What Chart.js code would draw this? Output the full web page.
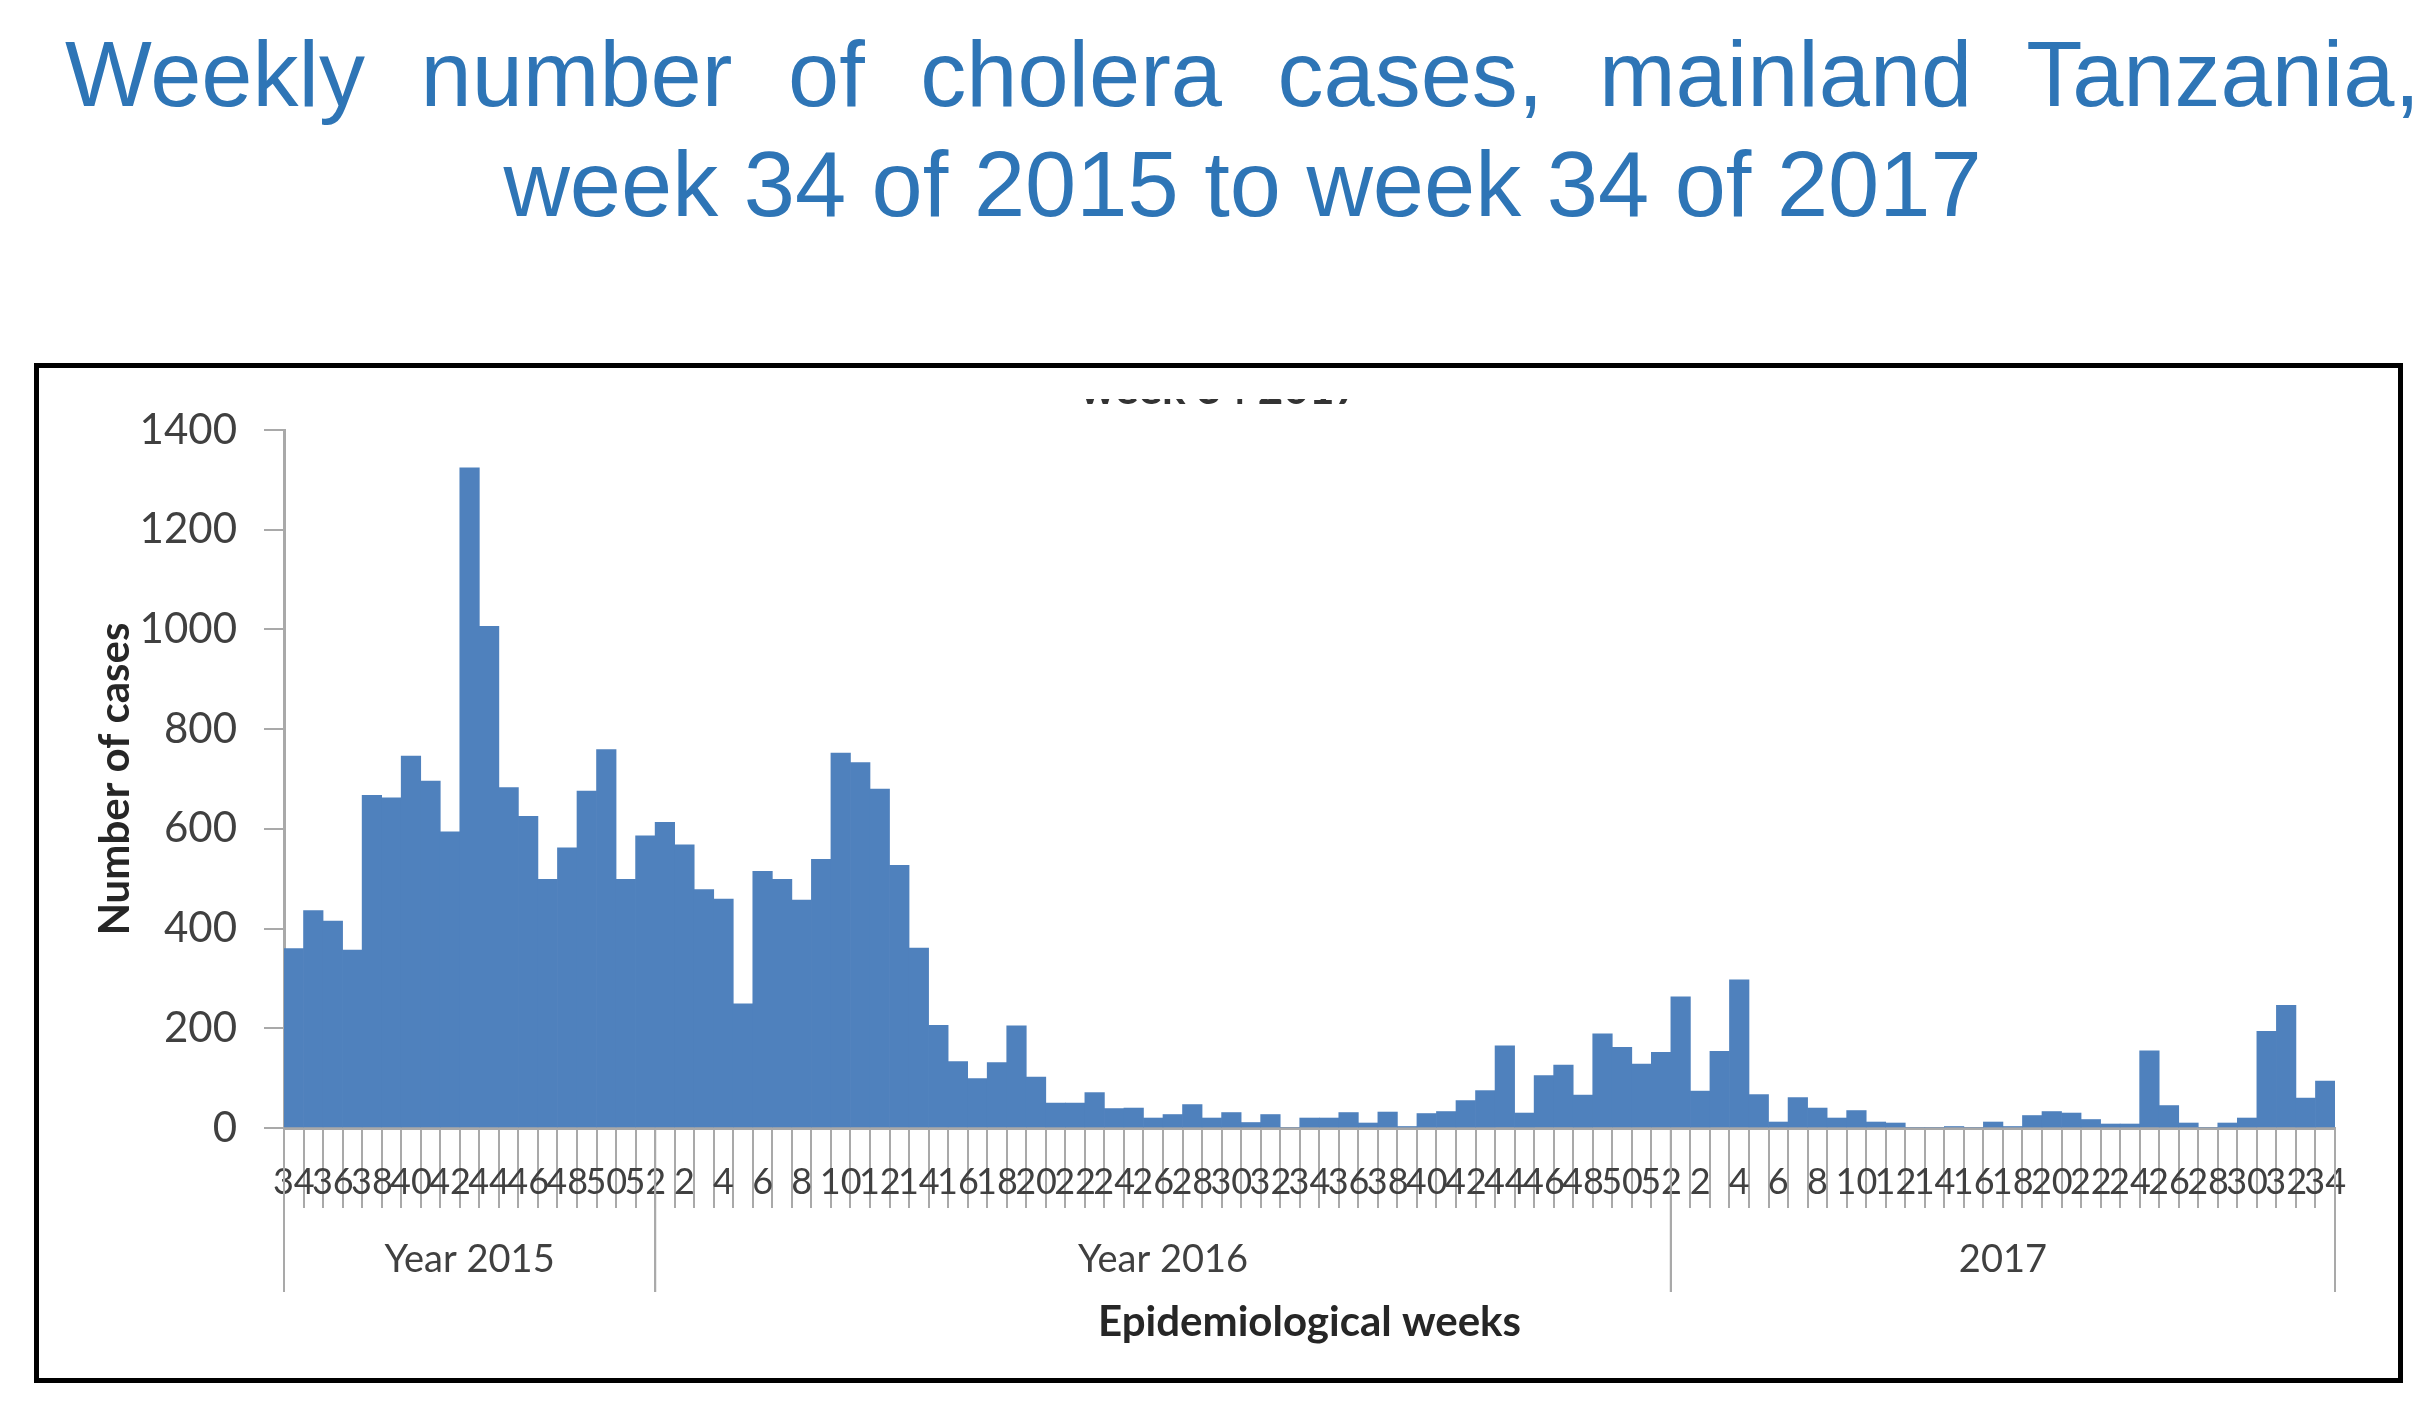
<!DOCTYPE html>
<html>
<head>
<meta charset="utf-8">
<title>Weekly number of cholera cases, mainland Tanzania</title>
<script src="https://cdn.jsdelivr.net/npm/chart.js@4.4.1/dist/chart.umd.min.js"></script>
<style>
  body { margin: 0; width: 2436px; height: 1428px; background: #fff; position: relative; overflow: hidden; }
  #title {
    position: absolute; left: 65px; top: 19px; width: 2355px;
    font: 92px/110px "Liberation Sans", Arial, sans-serif;
    color: #2E75B6; text-align: justify; text-align-last: center;
  }
  #frame {
    position: absolute; left: 34px; top: 363px; width: 2369px; height: 1020px;
    border: 5px solid #000; box-sizing: border-box; background: #fff;
  }
  #box { position: absolute; left: 0; top: 0; width: 2359px; height: 1010px; }
  #clip {
    position: absolute; left: 1080px; top: 399px; width: 300px; height: 5px; overflow: hidden;
  }
  #clip span {
    position: absolute; left: 0; top: -34px; white-space: nowrap;
    font: bold 44px/44px Lato, sans-serif; color: #333;
  }
</style>
</head>
<body>
<div id="title">Weekly number of cholera cases, mainland Tanzania, week 34 of 2015 to week 34 of 2017</div>
<div id="frame"><div id="box"><canvas id="chart"></canvas></div></div>
<div id="clip"><span>week 34 2017</span></div>

<script>
// weeks shown on the axis, per year
const weeks2015 = [34, 35, 36, 37, 38, 39, 40, 41, 42, 43, 44, 45, 46, 47, 48, 49, 50, 51, 52];
const weeks2016 = [1, 2, 3, 4, 5, 6, 7, 8, 9, 10, 11, 12, 13, 14, 15, 16, 17, 18, 19, 20,
    21, 22, 23, 24, 25, 26, 27, 28, 29, 30, 31, 32, 33, 34, 35, 36, 37, 38, 39, 40,
    41, 42, 43, 44, 45, 46, 47, 48, 49, 50, 51, 52];
const weeks2017 = [1, 2, 3, 4, 5, 6, 7, 8, 9, 10, 11, 12, 13, 14, 15, 16, 17, 18, 19, 20,
    21, 22, 23, 24, 25, 26, 27, 28, 29, 30, 31, 32, 33, 34];

// weekly cases
const cases2015 = [360, 436, 415, 357, 667, 662, 746, 696, 594, 1324, 1006, 683, 625, 499, 562, 676, 759, 499, 586];
const cases2016 = [613, 568, 478, 459, 249, 515, 499, 457, 539, 752, 733, 680, 527, 361, 206, 133, 99, 131, 205, 102,
    50, 50, 71, 39, 40, 20, 27, 47, 20, 31, 11, 27, 0, 20, 20, 31, 10, 32, 3, 29,
    33, 55, 75, 165, 30, 105, 126, 66, 189, 162, 128, 152];
const cases2017 = [263, 74, 154, 297, 67, 12, 61, 40, 20, 35, 12, 10, 0, 0, 3, 0, 12, 3, 25, 33,
    30, 17, 8, 8, 155, 45, 10, 0, 10, 20, 194, 246, 60, 94];

const yearLabels = ['Year 2015', 'Year 2016', '2017'];
const yearWeeks = [weeks2015, weeks2016, weeks2017];
const yTicks = [0, 200, 400, 600, 800, 1000, 1200, 1400];
const labelEvery = 2;

const weekLabels = [].concat(weeks2015, weeks2016, weeks2017).map(String);
const cases = [].concat(cases2015, cases2016, cases2017);

const textColor = '#404040';
const lineColor = '#a9a9a9';
Chart.defaults.font.family = 'Lato';

// second level of the category axis: year groups with separators
const yearGroups = {
    id: 'yearGroups',
    afterDraw(chart) {
        const x = chart.scales.x;
        const ctx = chart.ctx;
        const half = (x.getPixelForValue(1) - x.getPixelForValue(0)) / 2;
        let start = 0;
        ctx.save();
        ctx.strokeStyle = lineColor;
        ctx.lineWidth = 2;
        ctx.fillStyle = textColor;
        ctx.font = '38px Lato';
        ctx.textAlign = 'center';
        ctx.textBaseline = 'middle';
        yearWeeks.forEach((w, i) => {
            const left = x.getPixelForValue(start) - half;
            const right = x.getPixelForValue(start + w.length - 1) + half;
            [left, right].forEach(px => {
                ctx.beginPath();
                ctx.moveTo(px, x.top);
                ctx.lineTo(px, x.top + 164);
                ctx.stroke();
            });
            ctx.fillText(yearLabels[i], (left + right) / 2, x.top + 132);
            start += w.length;
        });
        ctx.restore();
    }
};

const ctx = document.getElementById('chart').getContext('2d');
const casesChart = new Chart(ctx, {
    type: 'bar',
    data: {
        labels: weekLabels,
        datasets: [{
            label: 'Number of cases',
            data: cases,
            backgroundColor: '#4F81BD',
            borderWidth: 0,
            barPercentage: 1,
            categoryPercentage: 1
        }]
    },
    options: {
        responsive: true,
        maintainAspectRatio: false,
        animation: false,
        layout: { padding: { left: 0, top: 62, right: 63, bottom: 0 } },
        plugins: {
            legend: { display: false },
            tooltip: { enabled: false }
        },
        scales: {
            x: {
                offset: true,
                grid: { offset: true, drawOnChartArea: false, tickLength: 80, color: lineColor, lineWidth: 2 },
                border: { color: lineColor, width: 3 },
                ticks: {
                    autoSkip: false, maxRotation: 0, minRotation: 0, padding: -47,
                    color: textColor, font: { size: 36 },
                    callback: (v, i) => (i % labelEvery === 0 ? weekLabels[i] : '')
                },
                title: {
                    display: true, text: 'Epidemiological weeks', color: '#262626',
                    font: { size: 42, weight: 'bold' }, padding: { top: 0, bottom: 30 }
                },
                afterFit: s => { s.height = 250; }
            },
            y: {
                min: 0,
                max: 1400,
                afterBuildTicks: s => { s.ticks = yTicks.map(v => ({ value: v })); },
                grid: { drawOnChartArea: false, tickLength: 20, color: lineColor, lineWidth: 2 },
                border: { color: lineColor, width: 3 },
                ticks: { padding: 27, color: textColor, font: { size: 42 }, callback: v => String(v) },
                title: {
                    display: true, text: 'Number of cases', color: '#262626',
                    font: { size: 42, weight: 'bold' }, padding: { top: 51, bottom: 0 }
                },
                afterFit: s => { s.width = 245; }
            }
        }
    },
    plugins: [yearGroups]
});
</script>
</body>
</html>
